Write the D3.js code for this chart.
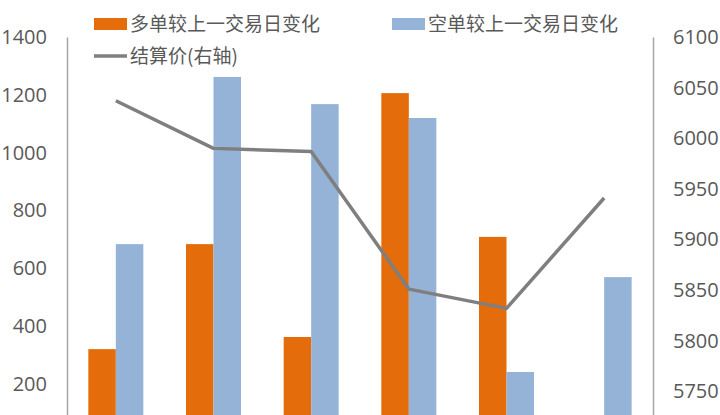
<!DOCTYPE html>
<html>
<head>
<meta charset="utf-8">
<script src="https://cdn.jsdelivr.net/npm/d3@7"></script>
<style>
  body { margin: 0; background: #fff; overflow: hidden; }
  svg { display: block; }
  .tick text { fill: #595959; font-size: 20px; font-family: "Open Sans", "Noto Sans", sans-serif; }
  .legend text { fill: #595959; font-size: 19px; font-family: "Noto Sans CJK SC", sans-serif; }
</style>
</head>
<body>
<script>
// datos (la parte de abajo queda cortada)
var categorias = ["D1", "D2", "D3", "D4", "D5", "D6"];
var duoDan = [321, 684, 363, 1206, 709, 0];        // 多单较上一交易日变化
var kongDan = [684, 1262, 1168, 1120, 242, 570];   // 空单较上一交易日变化
var jieSuanJia = [6037, 5990, 5987, 5851, 5832, 5941]; // 结算价(右轴)

// los ticks 0 y 5700 caen fuera de la imagen
var ticksIzq = [200, 400, 600, 800, 1000, 1200, 1400];
var ticksDer = [5750, 5800, 5850, 5900, 5950, 6000, 6050, 6100];

var vis = {
    ancho: 720,
    alto: 415,
    izq: 67,
    der: 653,
    arriba: 37,
    abajo: 442,
    anchoBarra: 27.5,
    naranja: "#e46c0a",
    azul: "#95b3d7",
    gris: "#7f7f7f"
};

var svg = d3.select("body").append("svg")
    .attr("width", vis.ancho)
    .attr("height", vis.alto);

var x = d3.scaleBand().domain(categorias).range([vis.izq, vis.der]);
var yIzq = d3.scaleLinear().domain([0, 1400]).range([vis.abajo, vis.arriba]);
var yDer = d3.scaleLinear().domain([5700, 6100]).range([vis.abajo, vis.arriba]);

// ejes
var ejeIzq = svg.append("g")
    .attr("transform", "translate(" + vis.izq + ",0)")
    .call(d3.axisLeft(yIzq).tickValues(ticksIzq).tickFormat(d3.format("d")).tickSize(0).tickPadding(20));
var ejeDer = svg.append("g")
    .attr("transform", "translate(" + vis.der + ",0)")
    .call(d3.axisRight(yDer).tickValues(ticksDer).tickFormat(d3.format("d")).tickSize(0).tickPadding(20));
[ejeIzq, ejeDer].forEach(function(e) {
    e.select(".domain").attr("stroke", "#a6a6a6").attr("stroke-width", 1.5);
});

// barras
var centro = function(d) { return x(d) + x.bandwidth() / 2; };
svg.selectAll(".duo").data(duoDan).enter().append("rect")
    .attr("x", function(d, i) { return centro(categorias[i]) - vis.anchoBarra; })
    .attr("y", function(d) { return yIzq(d); })
    .attr("width", vis.anchoBarra)
    .attr("height", function(d) { return yIzq(0) - yIzq(d); })
    .attr("fill", vis.naranja);
svg.selectAll(".kong").data(kongDan).enter().append("rect")
    .attr("x", function(d, i) { return centro(categorias[i]); })
    .attr("y", function(d) { return yIzq(d); })
    .attr("width", vis.anchoBarra)
    .attr("height", function(d) { return yIzq(0) - yIzq(d); })
    .attr("fill", vis.azul);

// linea del precio
var linea = d3.line()
    .x(function(d, i) { return centro(categorias[i]); })
    .y(function(d) { return yDer(d); });
svg.append("path").datum(jieSuanJia)
    .attr("d", linea)
    .attr("fill", "none")
    .attr("stroke", vis.gris)
    .attr("stroke-width", 3.5)
    .attr("stroke-linejoin", "round");

// leyenda
var leyenda = svg.append("g").attr("class", "legend");
var items = [
    { t: "多单较上一交易日变化", c: vis.naranja, tipo: "rect", x: 94, y: 24 },
    { t: "空单较上一交易日变化", c: vis.azul, tipo: "rect", x: 392, y: 24 },
    { t: "结算价(右轴)", c: vis.gris, tipo: "line", x: 94, y: 56 }
];
items.forEach(function(it) {
    if (it.tipo == "rect") {
        leyenda.append("rect").attr("x", it.x).attr("y", it.y - 6)
            .attr("width", 33).attr("height", 12).attr("fill", it.c);
    } else {
        leyenda.append("line").attr("x1", it.x).attr("x2", it.x + 33)
            .attr("y1", it.y).attr("y2", it.y)
            .attr("stroke", it.c).attr("stroke-width", 3.5);
    }
    leyenda.append("text").attr("x", it.x + 36).attr("y", it.y)
        .attr("dy", "0.35em").text(it.t);
});
</script>
</body>
</html>
